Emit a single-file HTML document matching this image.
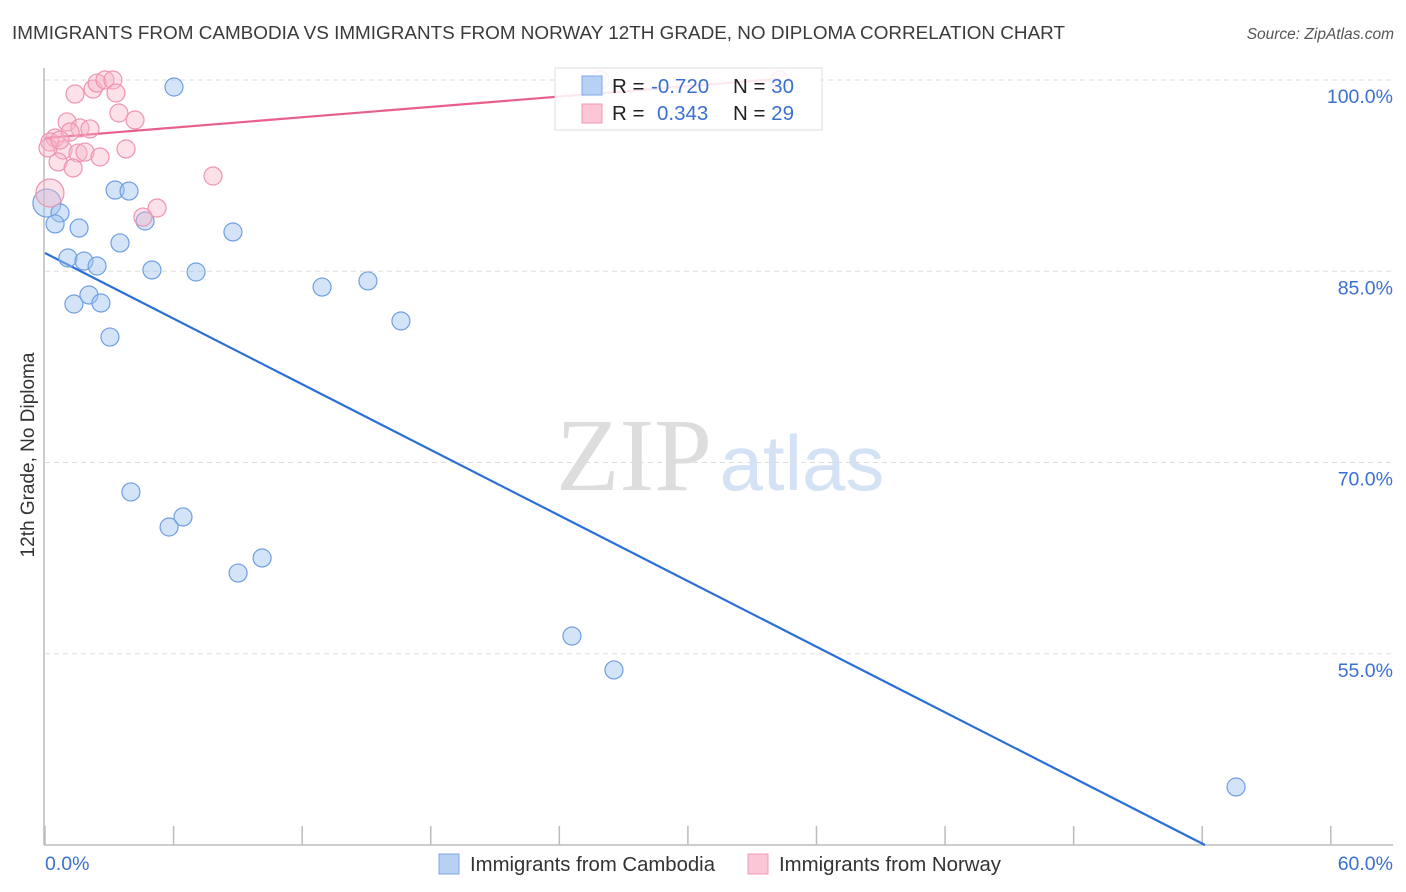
<!DOCTYPE html>
<html><head><meta charset="utf-8"><style>
body{margin:0;background:#fff;font-family:"Liberation Sans",sans-serif;}
#wrap{position:relative;width:1406px;height:892px;overflow:hidden;}
</style></head><body>
<div id="wrap">
<svg id="chart" width="1406" height="892">
<text x="12" y="39" font-size="18" textLength="1053" lengthAdjust="spacingAndGlyphs" fill="#3a3a3a">IMMIGRANTS FROM CAMBODIA VS IMMIGRANTS FROM NORWAY 12TH GRADE, NO DIPLOMA CORRELATION CHART</text>
<text x="1394" y="39" font-size="15.5" fill="#555" font-style="italic" text-anchor="end">Source: ZipAtlas.com</text>
<text transform="translate(34,455) rotate(-90)" font-size="19" fill="#333" text-anchor="middle">12th Grade, No Diploma</text>
<g>
<text x="634" y="490" font-size="104" fill="#ddd" font-family="Liberation Serif,serif" text-anchor="middle">ZIP</text>
<text x="802" y="490" font-size="78" fill="#d4e2f5" text-anchor="middle">atlas</text>
</g>
<g id="grid"></g>
<g id="axes"></g>
<g id="lines"></g>
<g id="points"></g>
<g>
<rect x="555" y="68" width="267" height="62" fill="rgba(255,255,255,0.85)" stroke="#ddd"/>
<rect x="582" y="76" width="20" height="19" fill="#b7d1f5" stroke="#7fa8e6"/>
<rect x="582" y="104" width="20" height="19" fill="#fbc6d6" stroke="#f09ab5"/>
<text x="612" y="93" font-size="20.5" fill="#222">R = <tspan x="651" fill="#3a70d0">-0.720</tspan></text>
<text x="733" y="93" font-size="20.5" fill="#222">N = <tspan fill="#3a70d0">30</tspan></text>
<text x="612" y="120" font-size="20.5" fill="#222">R = <tspan x="657" fill="#3a70d0">0.343</tspan></text>
<text x="733" y="120" font-size="20.5" fill="#222">N = <tspan fill="#3a70d0">29</tspan></text>
</g>
<g>
<rect x="439" y="854" width="20" height="20" fill="#b7d1f5" stroke="#7fa8e6"/>
<text x="470" y="871" font-size="20" textLength="245" lengthAdjust="spacingAndGlyphs" fill="#333">Immigrants from Cambodia</text>
<rect x="748" y="854" width="20" height="20" fill="#fbc6d6" stroke="#f09ab5"/>
<text x="779" y="871" font-size="20" textLength="222" lengthAdjust="spacingAndGlyphs" fill="#333">Immigrants from Norway</text>
</g>
</svg>
</div>
<script>
const yTicks=[100,85,70,55];
const yTickLabels=["100.0%","85.0%","70.0%","55.0%"];
const xTicks=[0,6,12,18,24,30,36,42,48,54,60];
const cambX=[6.02,3.27,3.92,0.09,0.70,0.47,1.59,4.67,8.77,3.50,1.07,1.82,2.43,4.99,7.05,12.93,15.07,2.05,1.35,2.61,16.61,3.03,4.01,6.44,5.79,9.01,10.13,24.59,26.55,55.58];
const cambY=[99.45,91.37,91.29,90.35,89.57,88.71,88.39,88.94,88.08,87.22,86.04,85.80,85.41,85.10,84.94,83.76,84.24,83.14,82.43,82.51,81.10,79.84,67.69,65.73,64.94,61.33,62.51,56.39,53.73,44.55];
const norX=[1.40,2.24,2.43,2.80,3.17,3.31,3.45,4.20,1.03,1.63,2.10,1.17,0.47,0.23,0.84,1.54,1.87,2.57,3.78,0.61,1.31,7.84,0.23,5.23,4.57,34.30,25.90,0.14,0.70];
const norY=[98.90,99.29,99.76,100.0,100.0,98.98,97.41,96.86,96.71,96.24,96.16,95.92,95.45,95.14,94.51,94.27,94.35,93.96,94.59,93.57,93.10,92.47,91.14,89.96,89.25,100.0,100.0,94.67,95.29];
const cambTrendX=[0,54.13];
const cambTrendY=[86.43,40];
const norTrendX=[0,34.3];
const norTrendY=[95.45,100.1];

const NS="http://www.w3.org/2000/svg";
function xs(v){return 45+v*21.43;}
function ys(v){return 80+(100-v)*12.75;}
function mk(tag,attrs,parent){const e=document.createElementNS(NS,tag);for(const k in attrs)e.setAttribute(k,attrs[k]);document.getElementById(parent).appendChild(e);return e;}

yTicks.forEach((t,i)=>{
  const l=mk('line',{x1:45,x2:1393,y1:ys(t),y2:ys(t),stroke:'#ddd','stroke-dasharray':'5,4'},'grid');
  
  
  const tx=mk('text',{x:1393,y:ys(t)+23,'font-size':19.5,fill:'#3a70d0','text-anchor':'end'},'grid');
  tx.textContent=yTickLabels[i];
  
  
});
const ya=mk('line',{x1:44,x2:44,y1:68,y2:845,stroke:'#bbb','stroke-width':1.5},'axes');


const xa=mk('line',{x1:44,x2:1393,y1:845,y2:845,stroke:'#bbb','stroke-width':1.5},'axes');


xTicks.forEach(t=>{
  const l=mk('line',{x1:xs(t),x2:xs(t),y1:826,y2:845,stroke:'#bbb','stroke-width':1.5},'axes');
  
  
});
const xl0=mk('text',{x:45,y:870,'font-size':19.5,fill:'#3a70d0'},'axes');
xl0.textContent="0.0%";


const xl1=mk('text',{x:1393,y:870,'font-size':19.5,fill:'#3a70d0','text-anchor':'end'},'axes');
xl1.textContent="60.0%";



cambX.forEach((v,i)=>{
  const big=i===3;
  const c=mk('circle',{cx:xs(v),cy:ys(cambY[i]),r:big?14:9,fill:'rgba(160,195,240,0.45)',stroke:'#6f9fe0','stroke-width':1.2},'points');
  
  
});
norX.forEach((v,i)=>{
  const big=i===22;
  const c=mk('circle',{cx:xs(v),cy:ys(norY[i]),r:big?14:9,fill:'rgba(248,180,200,0.4)',stroke:'#ef94b0','stroke-width':1.2},'points');
  
  
});
const bl=mk('line',{x1:xs(cambTrendX[0]),y1:ys(cambTrendY[0]),x2:xs(cambTrendX[1]),y2:ys(cambTrendY[1]),stroke:'#2a6fd8','stroke-width':2.2},'lines');


const pl=mk('line',{x1:xs(norTrendX[0]),y1:ys(norTrendY[0]),x2:xs(norTrendX[1]),y2:ys(norTrendY[1]),stroke:'#e8608a','stroke-width':2.2},'lines');


</script>
</body></html>
